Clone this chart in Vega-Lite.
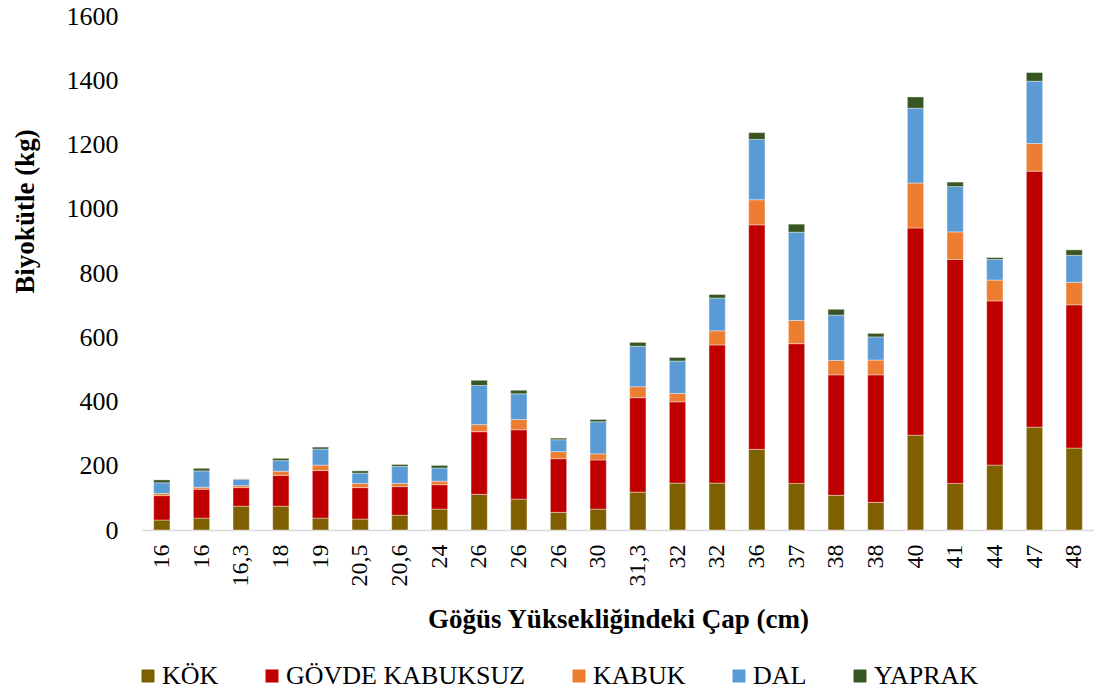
{
  "$schema": "https://vega.github.io/schema/vega-lite/v6.json",
  "autosize": "none",
  "width": 952,
  "height": 514,
  "padding": {"left": 142, "top": 16, "right": 0, "bottom": 164},
  "background": "white",
  "config": {
    "view": {"stroke": null},
    "font": "Liberation Serif",
    "axis": {"labelFont": "Liberation Serif", "titleFont": "Liberation Serif", "labelColor": "#000000", "titleColor": "#000000", "grid": false},
    "legend": {"labelFont": "Liberation Serif", "labelColor": "#000000"}
  },
  "datasets": {
    "bolumler": [
      {"bolum": "KÖK", "sira": 1},
      {"bolum": "GÖVDE KABUKSUZ", "sira": 2},
      {"bolum": "KABUK", "sira": 3},
      {"bolum": "DAL", "sira": 4},
      {"bolum": "YAPRAK", "sira": 5}
    ]
  },
  "data": {
    "values": [
      {"no": 1, "cap": "16", "KÖK": 31, "GÖVDE KABUKSUZ": 76, "KABUK": 7, "DAL": 33, "YAPRAK": 9},
      {"no": 2, "cap": "16", "KÖK": 37, "GÖVDE KABUKSUZ": 90, "KABUK": 6, "DAL": 51, "YAPRAK": 8},
      {"no": 3, "cap": "16,3", "KÖK": 74, "GÖVDE KABUKSUZ": 58, "KABUK": 6, "DAL": 20, "YAPRAK": 1},
      {"no": 4, "cap": "18", "KÖK": 74, "GÖVDE KABUKSUZ": 96, "KABUK": 13, "DAL": 33, "YAPRAK": 7},
      {"no": 5, "cap": "19", "KÖK": 37, "GÖVDE KABUKSUZ": 148, "KABUK": 17, "DAL": 50, "YAPRAK": 6},
      {"no": 6, "cap": "20,5", "KÖK": 34, "GÖVDE KABUKSUZ": 98, "KABUK": 13, "DAL": 32, "YAPRAK": 7},
      {"no": 7, "cap": "20,6", "KÖK": 46, "GÖVDE KABUKSUZ": 89, "KABUK": 10, "DAL": 53, "YAPRAK": 6},
      {"no": 8, "cap": "24", "KÖK": 65, "GÖVDE KABUKSUZ": 76, "KABUK": 11, "DAL": 41, "YAPRAK": 8},
      {"no": 9, "cap": "26", "KÖK": 111, "GÖVDE KABUKSUZ": 195, "KABUK": 22, "DAL": 122, "YAPRAK": 16},
      {"no": 10, "cap": "26", "KÖK": 96, "GÖVDE KABUKSUZ": 216, "KABUK": 32, "DAL": 80, "YAPRAK": 11},
      {"no": 11, "cap": "26", "KÖK": 55, "GÖVDE KABUKSUZ": 167, "KABUK": 22, "DAL": 37, "YAPRAK": 5},
      {"no": 12, "cap": "30", "KÖK": 65, "GÖVDE KABUKSUZ": 153, "KABUK": 19, "DAL": 100, "YAPRAK": 7},
      {"no": 13, "cap": "31,3", "KÖK": 118, "GÖVDE KABUKSUZ": 294, "KABUK": 34, "DAL": 126, "YAPRAK": 12},
      {"no": 14, "cap": "32", "KÖK": 146, "GÖVDE KABUKSUZ": 253, "KABUK": 26, "DAL": 101, "YAPRAK": 11},
      {"no": 15, "cap": "32", "KÖK": 146, "GÖVDE KABUKSUZ": 430, "KABUK": 44, "DAL": 102, "YAPRAK": 11},
      {"no": 16, "cap": "36", "KÖK": 251, "GÖVDE KABUKSUZ": 699, "KABUK": 78, "DAL": 188, "YAPRAK": 21},
      {"no": 17, "cap": "37", "KÖK": 145, "GÖVDE KABUKSUZ": 435, "KABUK": 72, "DAL": 275, "YAPRAK": 25},
      {"no": 18, "cap": "38", "KÖK": 108, "GÖVDE KABUKSUZ": 375, "KABUK": 45, "DAL": 141, "YAPRAK": 18},
      {"no": 19, "cap": "38", "KÖK": 86, "GÖVDE KABUKSUZ": 397, "KABUK": 46, "DAL": 72, "YAPRAK": 11},
      {"no": 20, "cap": "40", "KÖK": 295, "GÖVDE KABUKSUZ": 645, "KABUK": 140, "DAL": 233, "YAPRAK": 35},
      {"no": 21, "cap": "41", "KÖK": 145, "GÖVDE KABUKSUZ": 697, "KABUK": 86, "DAL": 141, "YAPRAK": 14},
      {"no": 22, "cap": "44", "KÖK": 202, "GÖVDE KABUKSUZ": 511, "KABUK": 65, "DAL": 64, "YAPRAK": 6},
      {"no": 23, "cap": "47", "KÖK": 320, "GÖVDE KABUKSUZ": 797, "KABUK": 86, "DAL": 194, "YAPRAK": 27},
      {"no": 24, "cap": "48", "KÖK": 255, "GÖVDE KABUKSUZ": 446, "KABUK": 70, "DAL": 84, "YAPRAK": 17}
    ]
  },
  "transform": [
    {"fold": ["KÖK", "GÖVDE KABUKSUZ", "KABUK", "DAL", "YAPRAK"], "as": ["bolum", "kg"]},
    {"lookup": "bolum", "from": {"data": {"name": "bolumler"}, "key": "bolum", "fields": ["sira"]}}
  ],
  "mark": {"type": "bar", "stroke": "#ffffff", "strokeWidth": 0.75, "strokeOpacity": 0.5},
  "encoding": {
    "x": {
      "field": "no",
      "type": "ordinal",
      "scale": {"paddingInner": 0.59, "paddingOuter": 0.295},
      "axis": {
        "title": "Göğüs Yüksekliğindeki Çap (cm)",
        "labelExpr": "['16','16','16,3','18','19','20,5','20,6','24','26','26','26','30','31,3','32','32','36','37','38','38','40','41','44','47','48'][datum.value-1]",
        "labelAngle": -90,
        "labelFontSize": 24,
        "labelPadding": 14,
        "ticks": false,
        "tickSize": 0,
        "domainColor": "#D9D9D9",
        "domainWidth": 1.5,
        "titleFontSize": 27,
        "titleFontWeight": "bold",
        "titleY": 89,
        "titleBaseline": "middle"
      }
    },
    "y": {
      "field": "kg",
      "type": "quantitative",
      "stack": "zero",
      "scale": {"domain": [0, 1600], "nice": false},
      "axis": {
        "title": "Biyokütle (kg)",
        "values": [0, 200, 400, 600, 800, 1000, 1200, 1400, 1600],
        "format": "d",
        "domain": false,
        "ticks": false,
        "tickSize": 0,
        "labelFontSize": 26,
        "labelPadding": 24,
        "titleFontSize": 27,
        "titleFontWeight": "bold",
        "titleAngle": -90,
        "titleX": -117,
        "titleY": 195,
        "titleBaseline": "middle",
        "titleAlign": "center"
      }
    },
    "order": {"field": "sira", "type": "quantitative", "sort": "ascending"},
    "color": {
      "field": "bolum",
      "type": "nominal",
      "sort": ["KÖK", "GÖVDE KABUKSUZ", "KABUK", "DAL", "YAPRAK"],
      "scale": {
        "domain": ["KÖK", "GÖVDE KABUKSUZ", "KABUK", "DAL", "YAPRAK"],
        "range": ["#7F6000", "#C00000", "#ED7D31", "#5B9BD5", "#375623"]
      },
      "legend": {
        "title": null,
        "orient": "none",
        "direction": "horizontal",
        "legendX": -7,
        "legendY": 647,
        "symbolType": "square",
        "symbolSize": 169,
        "symbolStrokeWidth": 0,
        "labelFontSize": 26,
        "labelOffset": 1,
        "labelLimit": 0,
        "columnPadding": 40
      }
    }
  }
}
